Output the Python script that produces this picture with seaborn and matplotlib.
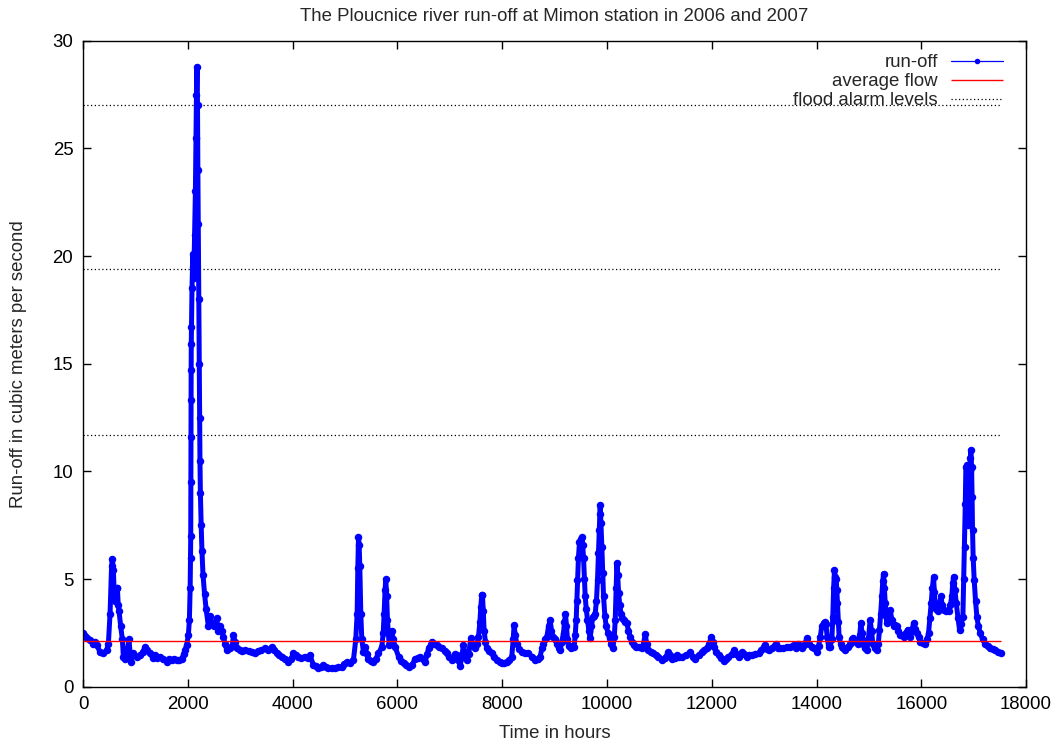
import matplotlib
matplotlib.use("Agg")
import matplotlib.pyplot as plt
import seaborn as sns
import pandas as pd

# Hourly run-off readings (hour index, m^3/s), 2006-2007
hours = [
    0, 40, 70, 134, 197, 230, 260, 325, 388, 452, 484, 516, 545, 560, 579, 595, 611, 640, 656, 672,
    688, 719, 751, 770, 800, 834, 878, 910, 961, 1025, 1088, 1140, 1183, 1230, 1279, 1330, 1374, 1420,
    1470, 1530, 1597, 1650, 1693, 1740, 1788, 1840, 1884, 1920, 1947, 1979, 2011, 2030, 2045, 2052,
    2056, 2058, 2060, 2062, 2064, 2066, 2070, 2080, 2090, 2100, 2110, 2120, 2130, 2145, 2155, 2165,
    2176, 2185, 2192, 2200, 2210, 2218, 2225, 2232, 2240, 2255, 2270, 2290, 2320, 2350, 2393, 2420,
    2456, 2500, 2552, 2580, 2616, 2650, 2680, 2710, 2743, 2807, 2850, 2871, 2900, 2934, 2990, 3040,
    3100, 3160, 3220, 3284, 3340, 3400, 3475, 3540, 3602, 3650, 3698, 3750, 3793, 3860, 3920, 3970,
    4016, 4060, 4111, 4170, 4238, 4290, 4334, 4398, 4440, 4493, 4540, 4589, 4640, 4684, 4750, 4811,
    4870, 4939, 4990, 5034, 5098, 5162, 5206, 5232, 5245, 5258, 5270, 5283, 5302, 5321, 5353, 5385,
    5420, 5448, 5500, 5544, 5590, 5639, 5703, 5730, 5747, 5765, 5779, 5795, 5811, 5843, 5870, 5894,
    5920, 5958, 6022, 6070, 6117, 6170, 6213, 6277, 6340, 6390, 6436, 6480, 6531, 6565, 6595, 6659,
    6700, 6754, 6800, 6850, 6900, 6945, 6990, 7041, 7070, 7100, 7134, 7170, 7197, 7230, 7261, 7290,
    7324, 7360, 7401, 7440, 7484, 7520, 7547, 7575, 7592, 7610, 7624, 7640, 7656, 7680, 7706, 7750,
    7802, 7850, 7897, 7950, 7993, 8040, 8088, 8140, 8184, 8210, 8228, 8250, 8279, 8330, 8375, 8440,
    8502, 8570, 8630, 8680, 8725, 8760, 8789, 8820, 8852, 8885, 8916, 8940, 8967, 9000, 9043, 9080,
    9107, 9140, 9171, 9190, 9209, 9228, 9247, 9280, 9311, 9340, 9374, 9395, 9413, 9426, 9438, 9456,
    9476, 9500, 9521, 9537, 9553, 9570, 9585, 9605, 9629, 9655, 9680, 9705, 9731, 9755, 9776, 9800,
    9820, 9838, 9852, 9862, 9871, 9885, 9903, 9920, 9935, 9960, 9986, 10020, 10050, 10080, 10113,
    10140, 10158, 10175, 10190, 10205, 10222, 10245, 10267, 10290, 10317, 10350, 10381, 10410, 10445,
    10475, 10508, 10560, 10604, 10665, 10700, 10729, 10760, 10793, 10840, 10888, 10940, 10983, 11047,
    11110, 11174, 11210, 11238, 11290, 11334, 11380, 11429, 11510, 11588, 11640, 11684, 11750, 11811,
    11860, 11907, 11950, 11990, 12020, 12053, 12090, 12130, 12180, 12225, 12270, 12320, 12380, 12429,
    12470, 12512, 12545, 12575, 12620, 12671, 12720, 12766, 12830, 12894, 12950, 13008, 13050, 13084,
    13150, 13224, 13260, 13307, 13370, 13434, 13500, 13562, 13600, 13644, 13680, 13720, 13770, 13816,
    13860, 13911, 13960, 14007, 14040, 14071, 14100, 14134, 14160, 14179, 14205, 14230, 14260, 14293,
    14311, 14327, 14343, 14360, 14375, 14388, 14400, 14416, 14432, 14460, 14483, 14515, 14546, 14600,
    14642, 14675, 14706, 14750, 14801, 14825, 14846, 14870, 14897, 14930, 14960, 14990, 15024, 15050,
    15075, 15110, 15151, 15180, 15202, 15225, 15247, 15265, 15279, 15295, 15311, 15326, 15342, 15375,
    15406, 15440, 15470, 15500, 15534, 15565, 15597, 15630, 15661, 15700, 15737, 15765, 15788, 15820,
    15852, 15885, 15916, 15950, 15979, 16030, 16075, 16110, 16139, 16165, 16190, 16212, 16234, 16250,
    16266, 16290, 16311, 16340, 16374, 16400, 16425, 16470, 16520, 16555, 16583, 16600, 16615, 16640,
    16667, 16700, 16730, 16760, 16794, 16810, 16825, 16840, 16851, 16868, 16883, 16900, 16910, 16925,
    16935, 16947, 16960, 16970, 16978, 16990, 17010, 17035, 17061, 17090, 17125, 17170, 17220, 17270,
    17316, 17360, 17411, 17470, 17519,
]
runoff = [
    2.48, 2.35, 2.24, 2.17, 2.0, 2.1, 1.95, 1.6, 1.55, 1.7, 2.0, 3.4, 5.6, 5.95, 5.4, 4.4, 4.0, 4.6, 4.6, 3.8,
    3.5, 2.8, 2.2, 1.4, 1.3, 1.55, 2.2, 1.15, 1.55, 1.4, 1.45, 1.6, 1.85, 1.7, 1.55, 1.35, 1.45, 1.35,
    1.4, 1.3, 1.15, 1.3, 1.25, 1.3, 1.25, 1.25, 1.3, 1.5, 1.7, 1.95, 2.4, 3.1, 4.6, 6.0,
    7.0, 9.5, 11.6, 13.3, 14.7, 15.9, 16.7, 18.5, 19.5, 20.1, 19.0, 19.8, 21.0, 23.0, 25.5, 27.5,
    28.8, 27.0, 24.0, 21.5, 18.0, 15.0, 12.5, 10.5, 9.0, 7.5, 6.3, 5.2, 4.3, 3.6, 2.8, 3.3,
    2.95, 2.8, 3.2, 2.6, 2.8, 2.6, 2.3, 2.0, 1.7, 1.8, 1.9, 2.4, 2.1, 1.8, 1.7, 1.65,
    1.7, 1.65, 1.6, 1.55, 1.65, 1.7, 1.78, 1.7, 1.85, 1.7, 1.55, 1.45, 1.4, 1.3, 1.15, 1.3,
    1.55, 1.45, 1.4, 1.35, 1.4, 1.35, 1.45, 1.0, 0.95, 0.85, 0.9, 1.0, 0.9, 0.85, 0.85, 0.85,
    0.9, 0.93, 1.05, 1.15, 1.08, 1.25, 2.2, 3.4, 5.5, 6.95, 6.6, 5.6, 3.4, 2.2, 1.6, 1.85,
    1.5, 1.3, 1.2, 1.15, 1.3, 1.55, 1.85, 2.5, 3.4, 4.5, 5.0, 4.2, 3.1, 1.95, 2.3, 2.6,
    2.2, 1.85, 1.4, 1.2, 1.08, 1.0, 0.93, 1.0, 1.3, 1.35, 1.4, 1.3, 1.15, 1.5, 1.78, 2.1,
    2.0, 1.95, 1.85, 1.78, 1.65, 1.55, 1.4, 1.25, 1.3, 1.5, 1.47, 1.2, 0.95, 1.4, 1.95, 1.5,
    1.25, 1.5, 2.25, 1.9, 1.78, 2.0, 2.3, 3.0, 3.7, 4.25, 4.25, 3.5, 2.6, 2.1, 1.78, 1.65,
    1.55, 1.4, 1.25, 1.15, 1.08, 1.1, 1.15, 1.25, 1.4, 2.2, 2.85, 2.4, 2.0, 1.75, 1.6, 1.55,
    1.55, 1.4, 1.25, 1.3, 1.4, 1.8, 2.0, 2.2, 2.3, 2.8, 3.1, 2.6, 2.3, 2.2, 2.0, 1.8,
    1.7, 2.1, 2.5, 3.0, 3.4, 2.8, 2.2, 1.9, 1.78, 1.9, 1.85, 2.4, 3.1, 4.0, 4.95, 6.0,
    6.7, 6.85, 6.95, 6.6, 6.0, 5.0, 4.2, 3.6, 3.1, 2.6, 2.25, 2.8, 3.25, 3.3, 3.4, 4.0,
    4.95, 6.2, 7.3, 8.0, 8.45, 7.6, 6.5, 5.3, 4.2, 3.3, 2.8, 2.5, 2.25, 2.0, 1.78,
    2.3, 3.1, 4.6, 5.75, 5.2, 4.35, 3.8, 3.4, 3.2, 3.1, 3.0, 2.95, 2.6, 2.3,
    2.1, 1.95, 1.85, 1.85, 1.78, 2.0, 2.45, 2.0, 1.7, 1.6, 1.55, 1.45, 1.4, 1.25,
    1.35, 1.6, 1.45, 1.3, 1.35, 1.47, 1.4, 1.4, 1.45, 1.6, 1.4, 1.3, 1.45, 1.6,
    1.7, 1.78, 2.0, 2.3, 2.1, 1.85, 1.6, 1.47, 1.35, 1.2, 1.3, 1.4, 1.5, 1.7,
    1.5, 1.4, 1.5, 1.6, 1.5, 1.4, 1.45, 1.47, 1.5, 1.55, 1.7, 1.95, 1.75, 1.7,
    1.8, 2.0, 1.8, 1.78, 1.8, 1.85, 1.85, 1.95, 1.8, 2.0, 1.9, 1.78, 1.95, 2.25,
    2.0, 1.85, 1.8, 1.6, 1.9, 2.3, 2.8, 2.95, 3.0, 2.9, 2.3, 1.85, 1.86, 2.2,
    3.25, 4.6, 5.4, 5.1, 5.0, 4.5, 3.9, 3.0, 2.3, 2.0, 1.85, 1.8, 1.7, 1.85,
    2.0, 2.2, 2.25, 2.1, 2.0, 2.4, 2.95, 2.5, 2.0, 1.8, 1.7, 2.2, 3.1, 2.6,
    2.0, 1.8, 1.7, 2.0, 2.65, 3.4, 4.2, 4.9, 5.25, 4.6, 3.9, 3.3, 2.95, 3.3,
    3.55, 3.1, 2.8, 2.85, 2.8, 2.6, 2.4, 2.4, 2.3, 2.5, 2.65, 2.5, 2.3, 2.6,
    2.95, 2.7, 2.5, 2.3, 2.1, 2.05, 2.0, 2.2, 2.5, 3.2, 3.9, 4.6, 5.1, 4.4,
    3.7, 3.6, 3.5, 3.8, 4.2, 3.8, 3.55, 3.5, 3.5, 3.8, 4.2, 4.8, 5.1, 4.5,
    3.9, 3.2, 2.65, 2.9, 3.25, 5.0, 6.5, 8.5, 10.2, 10.3, 8.8, 7.5, 9.0, 10.0,
    10.6, 11.0, 10.2, 8.8, 7.3, 6.0, 4.95, 4.0, 3.25, 2.8, 2.5, 2.2, 2.0, 1.9,
    1.78, 1.75, 1.7, 1.62, 1.58,
]

average_flow = 2.12
flood_levels = [11.7, 19.4, 27.0]
period_end = 17519

title = "The Ploucnice river run-off at Mimon station in 2006 and 2007"
x_title = "Time in hours"
y_title = "Run-off in cubic meters per second"
x_ticks = list(range(0, 18001, 2000))
y_ticks = list(range(0, 31, 5))

FS = 13.4

sns.set_style("ticks")
plt.rcParams["font.family"] = ["Liberation Sans", "DejaVu Sans"]

fig = plt.figure(figsize=(10.59, 7.42), dpi=100)
ax = fig.add_axes([0.0784, 0.0745, 0.8905, 0.8706])

df = pd.DataFrame({"hour": hours, "runoff": runoff})

for i, lvl in enumerate(flood_levels):
    ax.hlines(lvl, 0, period_end, colors="black", linestyles=(0, (1, 2)), linewidth=0.9,
              label="flood alarm levels" if i == 0 else None, zorder=1)
ax.hlines(average_flow, 0, period_end, colors="#ff0000", linewidth=1.0,
          label="average flow", zorder=3)

sns.lineplot(data=df, x="hour", y="runoff", ax=ax, color="#0000ff", linewidth=3.6,
             marker="o", markersize=5.4, markeredgewidth=0, estimator=None, sort=False,
             label="run-off", zorder=2)

ax.set_xlim(0, 18000)
ax.set_ylim(0, 30)
ax.set_xticks(x_ticks)
ax.set_yticks(y_ticks)
ax.tick_params(direction="in", length=6, width=1, top=True, right=True,
               labelsize=FS, colors="black", pad=7)
for s in ax.spines.values():
    s.set_linewidth(1.0)
    s.set_color("black")

ax.set_title(title, fontsize=FS, pad=14)
ax.set_xlabel(x_title, fontsize=FS, labelpad=8)
ax.set_ylabel(y_title, fontsize=FS, labelpad=18)

handles, labels = ax.get_legend_handles_labels()
order = [labels.index("run-off"), labels.index("average flow"), labels.index("flood alarm levels")]
leg = ax.legend([handles[i] for i in order], [labels[i] for i in order],
                loc="upper right", bbox_to_anchor=(0.9756, 0.979), frameon=False,
                markerfirst=False, fontsize=FS, handlelength=2.8, handletextpad=0.7,
                labelspacing=0.1, borderpad=0, borderaxespad=0)
run_handle = leg.legend_handles[0]
run_handle.set_linewidth(0.9)
run_handle.set_markersize(4.0)

fig.savefig("out.png", dpi=100)
